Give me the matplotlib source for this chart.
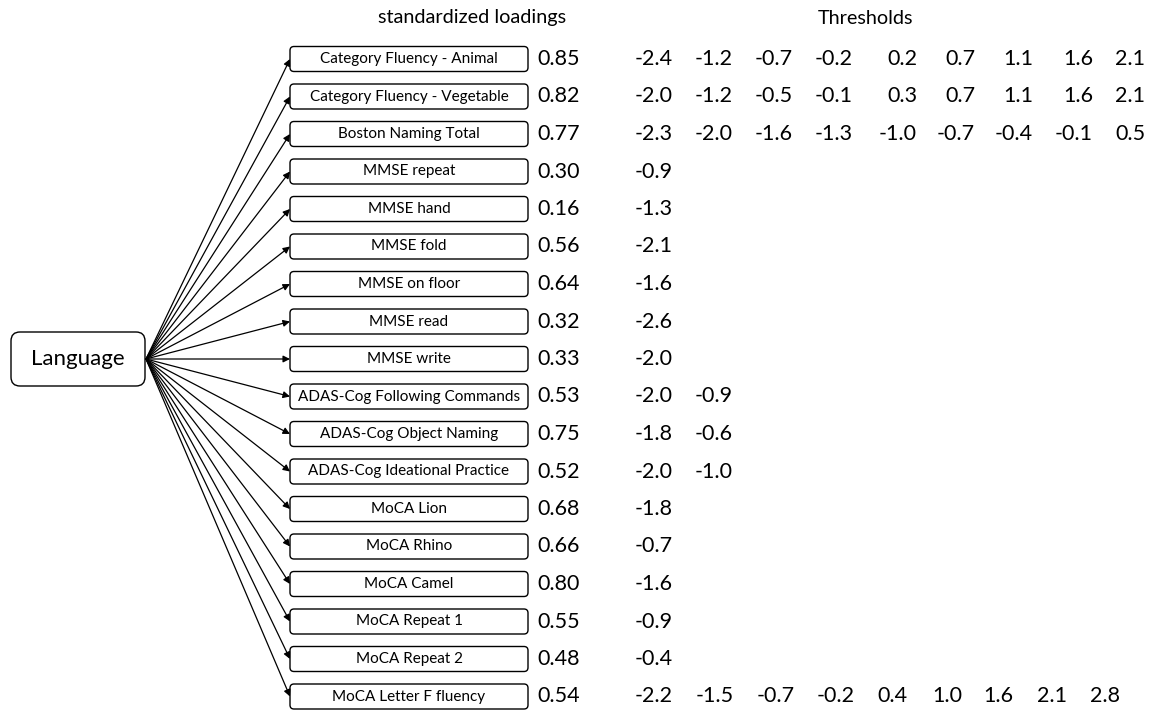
import matplotlib.pyplot as plt
from matplotlib.patches import FancyBboxPatch

plt.rcParams['font.family'] = ['Lato', 'DejaVu Sans']

factor = "Language"
items = [
    "Category Fluency - Animal",
    "Category Fluency - Vegetable",
    "Boston Naming Total",
    "MMSE repeat",
    "MMSE hand",
    "MMSE fold",
    "MMSE on floor",
    "MMSE read",
    "MMSE write",
    "ADAS-Cog Following Commands",
    "ADAS-Cog Object Naming",
    "ADAS-Cog Ideational Practice",
    "MoCA Lion",
    "MoCA Rhino",
    "MoCA Camel",
    "MoCA Repeat 1",
    "MoCA Repeat 2",
    "MoCA Letter F fluency",
]
loadings = [0.85, 0.82, 0.77, 0.30, 0.16, 0.56, 0.64, 0.32, 0.33,
            0.53, 0.75, 0.52, 0.68, 0.66, 0.80, 0.55, 0.48, 0.54]
thresholds = [
    [-2.4, -1.2, -0.7, -0.2, 0.2, 0.7, 1.1, 1.6, 2.1],
    [-2.0, -1.2, -0.5, -0.1, 0.3, 0.7, 1.1, 1.6, 2.1],
    [-2.3, -2.0, -1.6, -1.3, -1.0, -0.7, -0.4, -0.1, 0.5],
    [-0.9],
    [-1.3],
    [-2.1],
    [-1.6],
    [-2.6],
    [-2.0],
    [-2.0, -0.9],
    [-1.8, -0.6],
    [-2.0, -1.0],
    [-1.8],
    [-0.7],
    [-1.6],
    [-0.9],
    [-0.4],
    [-2.2, -1.5, -0.7, -0.2, 0.4, 1.0, 1.6, 2.1, 2.8],
]

# layout in pixel units (y grows downward)
W, H = 1152, 713
row0, row_step = 59, 37.5
box_x0, box_x1, box_h = 290, 528, 25
lat_x0, lat_x1, lat_y0, lat_y1 = 11, 145, 332, 386
load_x = 537
col_right = [673, 733, 793, 853, 917, 975, 1033, 1093, 1145]
last_left = [635, 696, 757, 817, 877, 932, 983, 1037, 1090]
num_size = 15.5

fig = plt.figure(figsize=(W / 100, H / 100), dpi=100)
ax = fig.add_axes([0, 0, 1, 1])
ax.set_xlim(0, W)
ax.set_ylim(H, 0)
ax.axis('off')

ax.text(472, 18, "standardized loadings", ha='center', va='center', fontsize=14.3)
ax.text(866, 18, "Thresholds", ha='center', va='center', fontsize=14.3)

# latent factor box
ax.add_patch(FancyBboxPatch((lat_x0, lat_y0), lat_x1 - lat_x0, lat_y1 - lat_y0,
                            boxstyle="round,pad=0,rounding_size=9",
                            fc='white', ec='black', lw=1.0))
ax.text((lat_x0 + lat_x1) / 2, (lat_y0 + lat_y1) / 2, factor,
        ha='center', va='center', fontsize=16)
apex = (lat_x1 + 1, (lat_y0 + lat_y1) / 2)

n = len(items)
for i in range(n):
    y = row0 + i * row_step
    ax.add_patch(FancyBboxPatch((box_x0, y - box_h / 2), box_x1 - box_x0, box_h,
                                boxstyle="round,pad=0,rounding_size=4",
                                fc='white', ec='black', lw=1.0))
    ax.text((box_x0 + box_x1) / 2, y, items[i], ha='center', va='center',
            fontsize=11)
    ax.annotate("", xy=(box_x0, y), xytext=apex,
                arrowprops=dict(arrowstyle='-|>', color='black', lw=0.9,
                                shrinkA=0, shrinkB=0, mutation_scale=10))
    ax.text(load_x, y, f"{loadings[i]:.2f}", ha='left', va='center', fontsize=num_size)
    th = thresholds[i]
    for j, t in enumerate(th):
        if i == n - 1:
            ax.text(last_left[j], y, f"{t:.1f}", ha='left', va='center',
                    fontsize=num_size)
        else:
            ax.text(col_right[j], y, f"{t:.1f}", ha='right', va='center',
                    fontsize=num_size)

fig.savefig("out.png", dpi=100)
